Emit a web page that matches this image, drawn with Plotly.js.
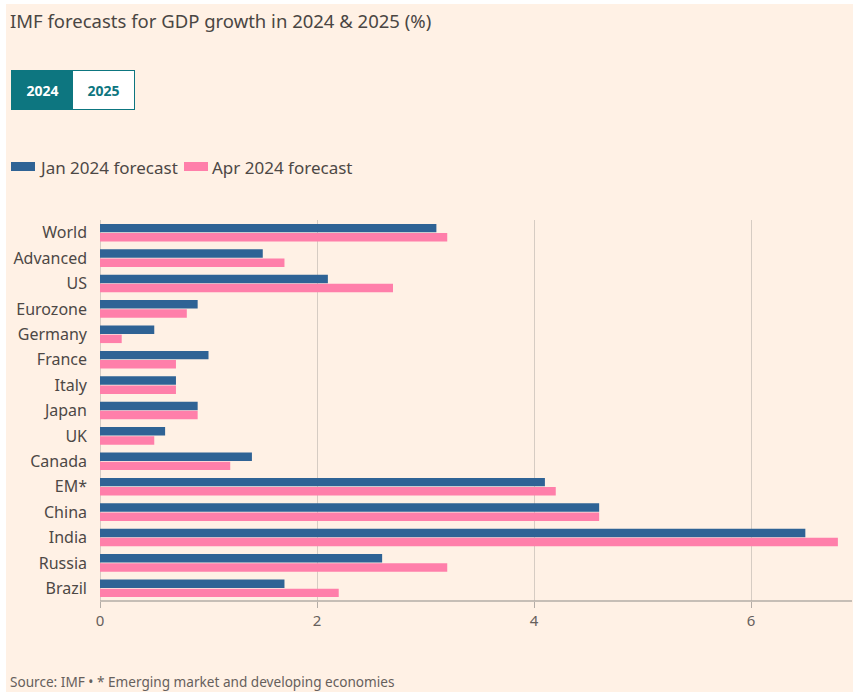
<!DOCTYPE html>
<html>
<head>
<meta charset="utf-8">
<script src="https://cdn.plot.ly/plotly-3.0.1.min.js"></script>
<style>
  html, body { margin: 0; padding: 0; background: #ffffff; width: 853px; height: 697px; overflow: hidden; }
  #chart { position: absolute; left: 6px; top: 4px; width: 847px; height: 688px; }
</style>
</head>
<body>
<div id="chart"></div>
<script>
const categories = ["World", "Advanced", "US", "Eurozone", "Germany", "France", "Italy", "Japan", "UK", "Canada", "EM*", "China", "India", "Russia", "Brazil"];
const janForecast = [3.1, 1.5, 2.1, 0.9, 0.5, 1.0, 0.7, 0.9, 0.6, 1.4, 4.1, 4.6, 6.5, 2.6, 1.7];
const aprForecast = [3.2, 1.7, 2.7, 0.8, 0.2, 0.7, 0.7, 0.9, 0.5, 1.2, 4.2, 4.6, 6.8, 3.2, 2.2];
const seriesNames = ["Jan 2024 forecast", "Apr 2024 forecast"];
const yearButtons = ["2024", "2025"];
const xTicks = [0, 2, 4, 6];

const FONT = "'Noto Sans', 'Open Sans', sans-serif";
const BG = "#fff1e5";
const TEXT = "#4d4845";
const BLUE = "#2f6395";
const PINK = "#ff7faa";
const TEAL = "#0d7680";

// plot-area geometry helpers (div px -> paper fraction)
const ML = 94, MT = 216, PW = 752, PH = 381;
const px = v => (v - ML) / PW;
const py = v => (MT + PH - v) / PH;

const traces = [
  { type: "bar", orientation: "h", name: seriesNames[0], y: categories, x: janForecast,
    marker: { color: BLUE }, hoverinfo: "x+y" },
  { type: "bar", orientation: "h", name: seriesNames[1], y: categories, x: aprForecast,
    marker: { color: PINK }, hoverinfo: "x+y" }
];

const legendShapes = [
  { type: "rect", xref: "paper", yref: "paper", x0: px(5), x1: px(29), y0: py(158), y1: py(167),
    fillcolor: BLUE, line: { width: 0 } },
  { type: "rect", xref: "paper", yref: "paper", x0: px(178), x1: px(202), y0: py(158), y1: py(167),
    fillcolor: PINK, line: { width: 0 } }
];

const layout = {
  width: 847, height: 688,
  paper_bgcolor: BG, plot_bgcolor: BG,
  font: { family: FONT, color: TEXT, size: 16 },
  margin: { l: ML, r: 1, t: MT, b: 688 - MT - PH },
  barmode: "group",
  bargap: 0.28,
  bargroupgap: 0.08,
  showlegend: false,
  title: {
    text: "IMF forecasts for GDP growth in 2024 &amp; 2025 (%)",
    x: 4 / 847, xanchor: "left", xref: "container", y: 1 - 18 / 688, yanchor: "middle", yref: "container",
    font: { family: FONT, size: 18.5, color: "#4a4643" }
  },
  xaxis: {
    range: [0, 6.93], tickvals: xTicks, ticktext: xTicks.map(String),
    showgrid: true, gridcolor: "#d6ccc3", gridwidth: 1,
    zeroline: true, zerolinecolor: "#d6ccc3", zerolinewidth: 1,
    showline: false,
    ticks: "outside", ticklen: 6, tickcolor: "#b3aca6",
    tickfont: { family: FONT, size: 15, color: "#66605c" },
    fixedrange: true
  },
  yaxis: {
    autorange: "reversed", type: "category",
    showgrid: false, zeroline: false, showline: false, ticks: "",
    ticklabelstandoff: 12,
    tickfont: { family: FONT, size: 16, color: TEXT },
    fixedrange: true
  },
  shapes: [
    { type: "line", xref: "paper", yref: "paper", x0: 0, x1: 1, y0: 0, y1: 0,
      line: { color: "#b3aca6", width: 1.5 } }
  ].concat(legendShapes),
  annotations: [
    { text: "<b>" + yearButtons[0] + "</b>", xref: "paper", yref: "paper", x: px(5), xanchor: "left",
      y: py(86), yanchor: "middle", showarrow: false,
      bgcolor: TEAL, bordercolor: TEAL, borderwidth: 1, width: 59, height: 36,
      font: { family: FONT, size: 14, color: "#ffffff" } },
    { text: "<b>" + yearButtons[1] + "</b>", xref: "paper", yref: "paper", x: px(66), xanchor: "left",
      y: py(86), yanchor: "middle", showarrow: false,
      bgcolor: "#ffffff", bordercolor: TEAL, borderwidth: 1, width: 59, height: 36,
      font: { family: FONT, size: 14, color: TEAL } },
    { text: seriesNames[0], xref: "paper", yref: "paper", x: px(31), xanchor: "left",
      y: py(163), yanchor: "middle", showarrow: false,
      font: { family: FONT, size: 17, color: TEXT } },
    { text: seriesNames[1], xref: "paper", yref: "paper", x: px(204), xanchor: "left",
      y: py(163), yanchor: "middle", showarrow: false,
      font: { family: FONT, size: 17, color: TEXT } },
    { text: "Source: IMF • * Emerging market and developing economies", xref: "paper", yref: "paper",
      x: px(2), xanchor: "left", y: py(677), yanchor: "middle", showarrow: false,
      font: { family: FONT, size: 13.6, color: "#66605c" } }
  ]
};

Plotly.newPlot("chart", traces, layout, { displayModeBar: false });
</script>
</body>
</html>
